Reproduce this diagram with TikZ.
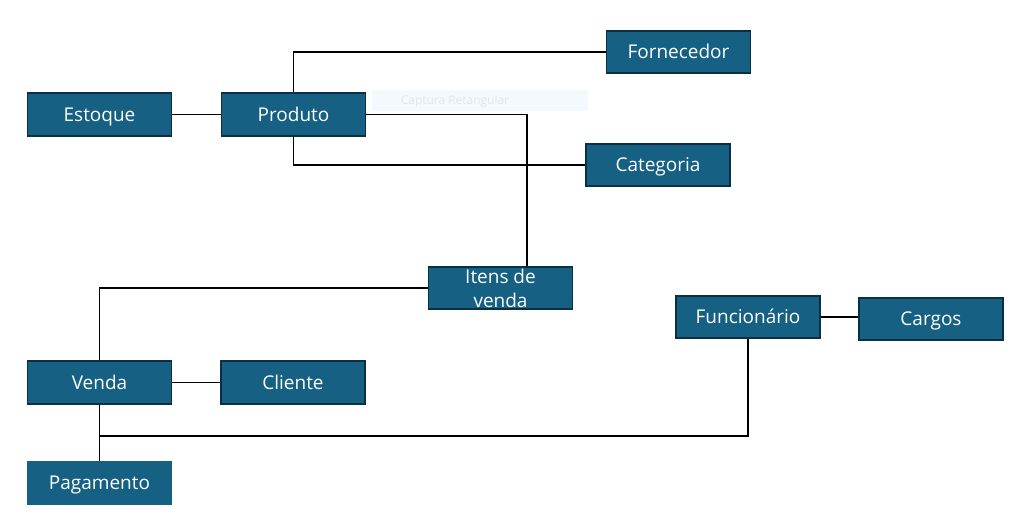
\documentclass[tikz,border=0pt]{standalone}
\usepackage{fontspec}
\setmainfont{Open Sans}
\usepackage{tikz}
\usetikzlibrary{arrows}

\definecolor{boxblue}{HTML}{166084}
\definecolor{boxline}{HTML}{0B2F43}
\definecolor{capfill}{HTML}{F4F9FD}
\definecolor{captext}{HTML}{E2E6EA}

\begin{document}
\begin{tikzpicture}[x=0.025cm,y=-0.025cm]

	\tikzstyle entity=[draw=boxline, line width=1.3pt, fill=boxblue, text=white,
		minimum width=3.6cm, minimum height=1.07cm, inner sep=1pt, align=center,
		text height=2ex, text depth=0.25ex, font=\fontsize{13.5}{17}\selectfont];
	\tikzstyle link lines=[line width=1.2pt];

	\useasboundingbox (0,0) rectangle (1022,528);

	\node[fill=capfill, minimum width=5.4cm, minimum height=0.52cm, inner sep=0pt] (capture) at (480,100.5) {};
	\node[text=captext, font=\fontsize{8.5}{10}\selectfont, inner sep=0pt] (capture text) at (455,101) {Captura Retangular};

		\foreach \name/\x/\y/\label in {estoque/99.5/114.5/Estoque,produto/293.5/114.5/Produto,
			fornecedor/678.5/52/Fornecedor,categoria/658/165/Categoria,
			funcionario/748/317/Funcionário,cargos/931/319/Cargos,venda/99.5/382.5/Venda,cliente/293/382.5/Cliente}
			\node[entity] (\name) at (\x,\y) {\label};
		\node[entity, text height=, text depth=] (itens) at (500.5,288) {Itens de\\venda};
		\node[entity, draw=boxblue] (pagamento) at (99.5,483) {Pagamento};

	\coordinate (pay split) at (99.5,436);

		\draw[link lines] (estoque) -- (produto);
		\draw[link lines] (produto.north) |- (fornecedor.west);
		\draw[link lines] (produto.south) |- (categoria.west);
		\draw[link lines] (produto.east) -| ([xshift=0.66cm]itens.north);
		\draw[link lines] (itens.west) -| (venda.north);
		\draw[link lines] (venda) -- (cliente);
		\draw[link lines] (venda.south) -- (pagamento.north);
		\draw[link lines] (pay split) -| (funcionario.south);
		\draw[link lines] (funcionario.east) -- (funcionario.east -| cargos.west);

\end{tikzpicture}
\end{document}
